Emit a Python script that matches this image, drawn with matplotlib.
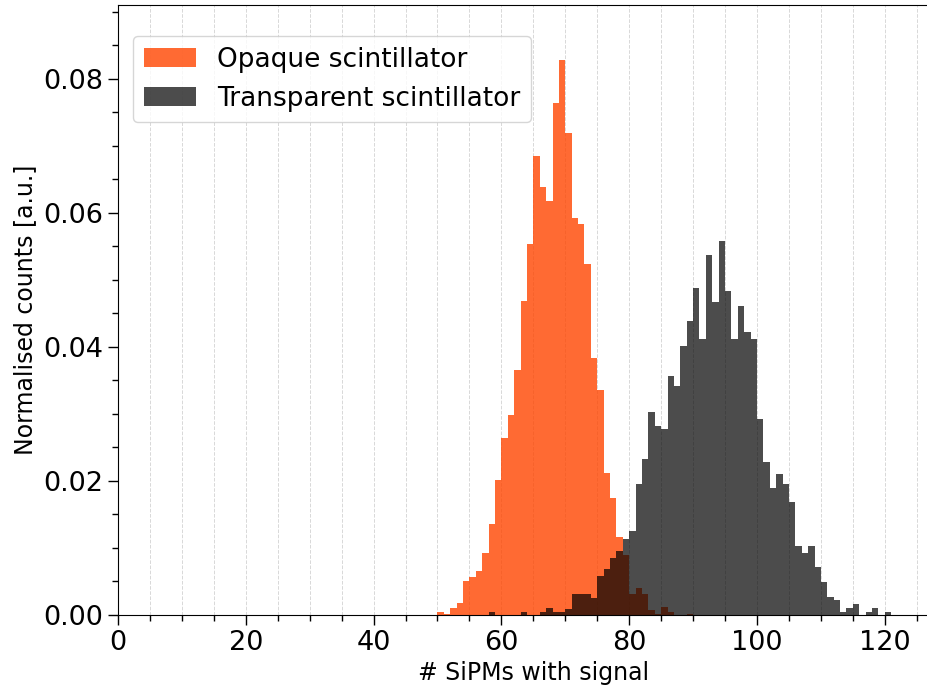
import numpy as np
import matplotlib
matplotlib.use("Agg")
import matplotlib.pyplot as plt
from matplotlib.ticker import MultipleLocator

# ── Data (normalised counts per 1-SiPM bin) ──
opaque_start = 50
opaque_vals = [0.0005, 0.0002, 0.0011, 0.0018, 0.0051, 0.0057, 0.0065, 0.0092,
               0.0136, 0.0201, 0.0264, 0.0298, 0.0365, 0.0469, 0.0553, 0.0685,
               0.0639, 0.0617, 0.0764, 0.0828, 0.0719, 0.0592, 0.0584, 0.0524,
               0.0384, 0.0335, 0.0212, 0.0174, 0.0116, 0.0090, 0.0032, 0.0040,
               0.0032, 0.0007, 0.0002, 0.0012, 0.0005, 0.0, 0.0, 0.0002]

transp_start = 58
transp_vals = [0.0005, 0.0, 0.0, 0.0, 0.0, 0.0005, 0.0, 0.0,
               0.0004, 0.0010, 0.0004, 0.0004, 0.0009, 0.0032, 0.0032, 0.0032,
               0.0026, 0.0058, 0.0069, 0.0085, 0.0096, 0.0113, 0.0125, 0.0195,
               0.0233, 0.0303, 0.0282, 0.0277, 0.0357, 0.0342, 0.0401, 0.0439,
               0.0488, 0.0412, 0.0537, 0.0467, 0.0558, 0.0483, 0.0412, 0.0461,
               0.0422, 0.0412, 0.0293, 0.0228, 0.0190, 0.0211, 0.0195, 0.0168,
               0.0103, 0.0093, 0.0103, 0.0071, 0.0049, 0.0027, 0.0022, 0.0005,
               0.0011, 0.0016, 0.0, 0.0005, 0.0011, 0.0, 0.0005]

labels = ["Opaque scintillator", "Transparent scintillator"]


def edges_for(start, vals):
    return np.arange(start, start + len(vals) + 1)


fig = plt.figure(figsize=(9.28, 6.87), dpi=100)
ax = fig.add_axes([118 / 928, 72 / 687, 130 * 6.39 / 928, 610 / 687])

e_op = edges_for(opaque_start, opaque_vals)
e_tr = edges_for(transp_start, transp_vals)
ax.hist(e_op[:-1], bins=e_op, weights=opaque_vals, histtype="stepfilled",
        color="orangered", alpha=0.8, linewidth=0, label=labels[0])
ax.hist(e_tr[:-1], bins=e_tr, weights=transp_vals, histtype="stepfilled",
        color="black", alpha=0.7, linewidth=0, label=labels[1])

ax.set_xlim(0, 130)
ax.set_ylim(0, 0.091)
ax.xaxis.set_major_locator(MultipleLocator(20))
ax.xaxis.set_minor_locator(MultipleLocator(5))
ax.yaxis.set_major_locator(MultipleLocator(0.02))
ax.yaxis.set_minor_locator(MultipleLocator(0.005))
ax.tick_params(which="major", labelsize=19.5, length=7, width=1)
ax.tick_params(which="minor", length=4, width=1)
ax.grid(True, axis="x", which="both", color="#d8d8d8", linestyle="--",
        linewidth=0.7)
ax.set_axisbelow(True)
ax.spines["right"].set_visible(False)

ax.set_xlabel("# SiPMs with signal", fontsize=17, labelpad=4)
ax.set_ylabel("Normalised counts [a.u.]", fontsize=17, labelpad=4.5)
ax.legend(loc="upper left", fontsize=19, bbox_to_anchor=(0.018, 0.949),
          borderaxespad=0)

fig.savefig("out.png", dpi=100)
